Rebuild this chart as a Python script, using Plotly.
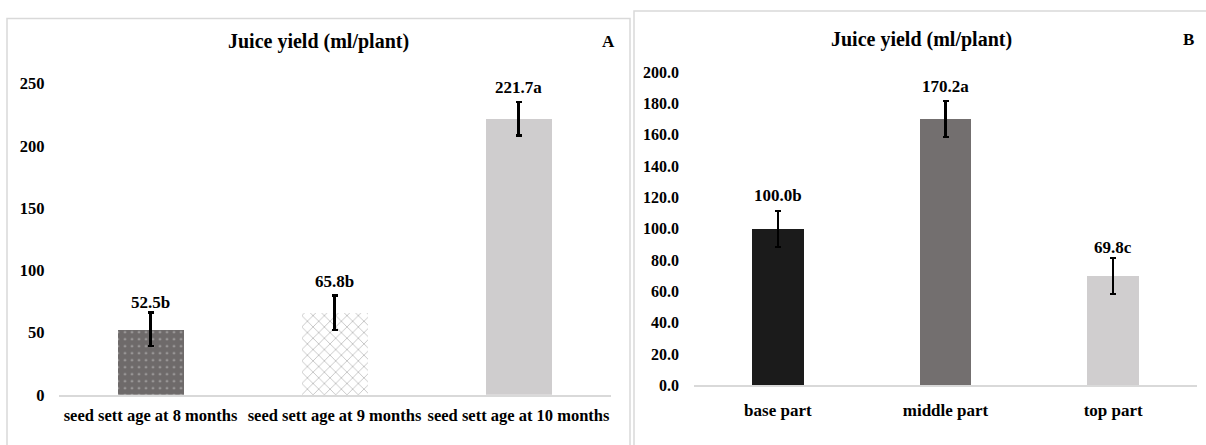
import plotly.graph_objects as go

W, H = 1206, 445

# ---------------- data ----------------
cats_a = ["seed sett age at 8 months", "seed sett age at 9 months", "seed sett age at 10 months"]
vals_a = [52.5, 65.8, 221.7]
err_a = [13.5, 13.9, 13.5]
letters_a = ["b", "b", "a"]
ticks_a = [0, 50, 100, 150, 200, 250]

cats_b = ["base part", "middle part", "top part"]
vals_b = [100.0, 170.2, 69.8]
err_b = [11.5, 11.5, 11.4]
letters_b = ["b", "a", "c"]
ticks_b = [0, 20, 40, 60, 80, 100, 120, 140, 160, 180, 200]
ticktext_b = [f"{t:.1f}" for t in ticks_b]

title_text = "Juice yield (ml/plant)"

# ---------------- styling ----------------
FONT = "Liberation Serif"
GRID = "#d9d9d9"
label_shift_a = [10, 14, 15]   # pixel gap of value labels above the error caps
label_shift_b = [15, 14, 11]


def px(x):
    return x / W


def py(y):
    return 1 - y / H


def f(size):
    return dict(family=FONT, size=size, color="black", weight="bold")


fig = go.Figure()

fig.add_trace(go.Bar(
    x=cats_a, y=vals_a, width=0.364,
    marker=dict(
        color=["#6e6a6a", "white", "#cfcdce"],
        line=dict(width=0),
        pattern=dict(shape=[".", "x", ""],
                     fgcolor=["#f4f4f4", "#6a6a6a", "#cfcdce"],
                     size=[7, 8, 8], solidity=[0.07, 0.14, 0.1]),
    ),
    error_y=dict(type="data", array=err_a, color="black", thickness=2.4, width=3),
    xaxis="x", yaxis="y", showlegend=False, hoverinfo="skip",
))

fig.add_trace(go.Bar(
    x=cats_b, y=vals_b, width=0.31,
    marker=dict(color=["#1b1b1b", "#736f6f", "#d0cecf"], line=dict(width=0)),
    error_y=dict(type="data", array=err_b, color="black", thickness=2.4, width=3),
    xaxis="x2", yaxis="y2", showlegend=False, hoverinfo="skip",
))

annotations = []
for c, v, e, l, s in zip(cats_a, vals_a, err_a, letters_a, label_shift_a):
    annotations.append(dict(x=c, y=v + e, xref="x", yref="y", text=f"{v:.1f}{l}",
                            showarrow=False, yanchor="middle", yshift=s, font=f(17)))
for c, v, e, l, s in zip(cats_b, vals_b, err_b, letters_b, label_shift_b):
    annotations.append(dict(x=c, y=v + e, xref="x2", yref="y2", text=f"{v:.1f}{l}",
                            showarrow=False, yanchor="middle", yshift=s, font=f(17)))

annotations += [
    dict(x=px(318), y=py(34), xref="paper", yref="paper", text=title_text,
         showarrow=False, xanchor="center", yanchor="middle", font=f(20)),
    dict(x=px(608), y=py(34), xref="paper", yref="paper", text="A",
         showarrow=False, xanchor="center", yanchor="middle", font=f(17)),
    dict(x=px(921), y=py(32), xref="paper", yref="paper", text=title_text,
         showarrow=False, xanchor="center", yanchor="middle", font=f(20)),
    dict(x=px(1188), y=py(32), xref="paper", yref="paper", text="B",
         showarrow=False, xanchor="center", yanchor="middle", font=f(17)),
]

shapes = [
    dict(type="rect", xref="paper", yref="paper", x0=px(7), x1=px(630), y0=-0.1, y1=py(10),
         line=dict(color=GRID, width=1.5), fillcolor="rgba(0,0,0,0)", layer="below"),
    dict(type="rect", xref="paper", yref="paper", x0=px(634), x1=1.1, y0=-0.1, y1=py(2),
         line=dict(color=GRID, width=1.5), fillcolor="rgba(0,0,0,0)", layer="below"),
]

fig.update_layout(
    width=W, height=H,
    margin=dict(l=0, r=0, t=0, b=0),
    paper_bgcolor="white", plot_bgcolor="white",
    annotations=annotations, shapes=shapes,
    xaxis=dict(domain=[px(58.5), px(610.5)], range=[-0.5, 2.5], showline=True,
               linecolor=GRID, linewidth=2, ticks="", showgrid=False, zeroline=False,
               tickfont=f(16.5), ticklabelstandoff=4, anchor="y", fixedrange=True),
    yaxis=dict(domain=[py(403), py(78)], range=[0, 250], tickvals=ticks_a,
               showgrid=False, zeroline=False, showline=False, ticks="",
               tickfont=f(16.5), ticklabelstandoff=13, anchor="x"),
    xaxis2=dict(domain=[px(694), px(1197)], range=[-0.5, 2.5], showline=True,
                linecolor=GRID, linewidth=2, ticks="", showgrid=False, zeroline=False,
                tickfont=f(17), ticklabelstandoff=8, anchor="y2"),
    yaxis2=dict(domain=[py(393), py(66)], range=[0, 200], tickvals=ticks_b,
                ticktext=ticktext_b, showgrid=False, zeroline=False, showline=False,
                ticks="", tickfont=f(16), ticklabelstandoff=14, anchor="x2"),
    bargap=0,
)

fig.write_html(
    "out.html",
    config={"displayModeBar": False},
    post_script="document.body.style.margin='0';document.body.style.overflow='hidden';",
)
